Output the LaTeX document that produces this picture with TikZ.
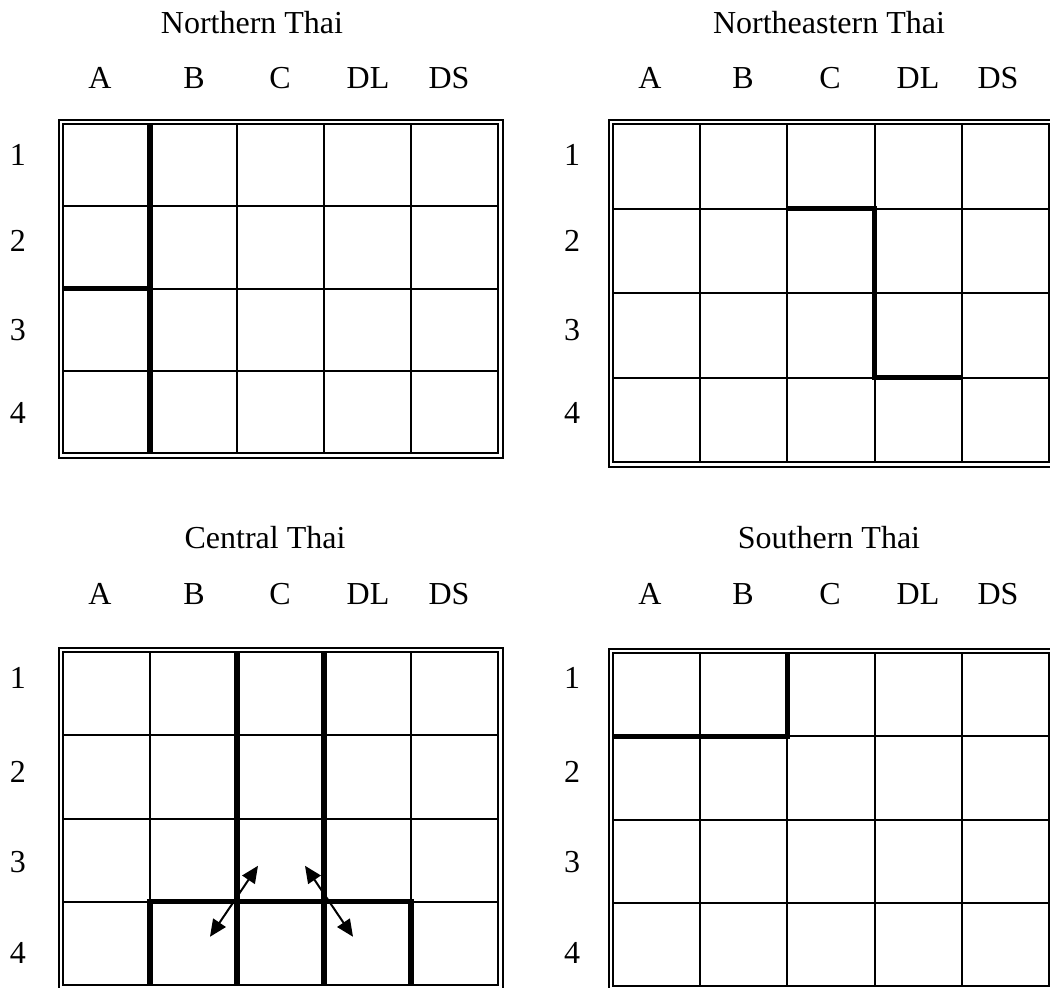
\documentclass[tikz,border=0pt]{standalone}
\usepackage{fontspec}
\setmainfont{Liberation Serif}
\usetikzlibrary{arrows.meta}
\tikzset{
  lbl/.style = {font=\fontsize{16}{19}\selectfont, inner sep=0pt},
  cell/.style = {line width=1pt},
  frame/.style = {line width=1pt},
  heavy/.style = {line width=2.7pt},
  move/.style = {line width=1pt, {Triangle[length=8.5pt,width=7.5pt]}-{Triangle[length=8.5pt,width=7.5pt]}}
}
\begin{document}
\begin{tikzpicture}[x=0.5pt, y=-0.5pt]
\useasboundingbox (0,0) rectangle (1050,987);
\clip (0,0) rectangle (1050,987);
% titles and labels
\node [lbl, anchor=base] (ntitle) at (252,33) {Northern Thai};
\node [lbl, anchor=base] (netitle) at (829,33) {Northeastern Thai};
\node [lbl, anchor=base] (ctitle) at (265,548) {Central Thai};
\node [lbl, anchor=base] (stitle) at (829,548) {Southern Thai};
\foreach \lab/\xx in {A/100,B/194,C/280,DL/368,DS/449} {
  \node [lbl, anchor=base] (ncol\lab) at (\xx,88) {\lab};
  \node [lbl, anchor=base] (ccol\lab) at (\xx,604) {\lab};
}
\foreach \lab/\xx in {A/650,B/743,C/830,DL/918,DS/998} {
  \node [lbl, anchor=base] (necol\lab) at (\xx,88) {\lab};
  \node [lbl, anchor=base] (scol\lab) at (\xx,604) {\lab};
}
\foreach \r/\yy in {1/155,2/241,3/330,4/413} {
  \node [lbl] (nrow\r) at (18,\yy) {\r};
  \node [lbl] (nerow\r) at (572,\yy) {\r};
}
\foreach \r/\yy in {1/678,2/772,3/862,4/953} {
  \node [lbl] (crow\r) at (18,\yy) {\r};
  \node [lbl] (srow\r) at (572,\yy) {\r};
}
% Northern Thai
\begin{scope}[shift={(63,124)}, x=43.5pt, y=-41.125pt]
\foreach \i in {1,...,4} \draw [cell] (\i,0) -- (\i,4);
\foreach \j in {1,2,3} \draw [cell] (0,\j) -- (5,\j);
\draw [frame] (0,0) rectangle (5,4);
\draw [frame] ([xshift=-2.25pt,yshift=2.25pt]0,0) rectangle ([xshift=2.25pt,yshift=-2.25pt]5,4);
\draw [heavy] (1,0) -- (1,4);
\draw [heavy] (0,2) -- (1,2);
\end{scope}
% Northeastern Thai
\begin{scope}[shift={(613,124)}, x=43.6pt, y=-42.25pt]
\foreach \i in {1,...,4} \draw [cell] (\i,0) -- (\i,4);
\foreach \j in {1,2,3} \draw [cell] (0,\j) -- (5,\j);
\draw [frame] (0,0) rectangle (5,4);
\draw [frame] ([xshift=-2.25pt,yshift=2.25pt]0,0) rectangle ([xshift=2.25pt,yshift=-2.25pt]5,4);
\draw [heavy] (2,1) -- (3,1) -- (3,3) -- (4,3);
\end{scope}
% Central Thai
\begin{scope}[shift={(63,652)}, x=43.5pt, y=-41.625pt]
\foreach \i in {1,...,4} \draw [cell] (\i,0) -- (\i,4);
\foreach \j in {1,2,3} \draw [cell] (0,\j) -- (5,\j);
\draw [frame] (0,0) rectangle (5,4);
\draw [frame] ([xshift=-2.25pt,yshift=2.25pt]0,0) rectangle ([xshift=2.25pt,yshift=-2.25pt]5,4);
\draw [heavy] (1,4) -- (1,3) -- (4,3) -- (4,4);
\draw [heavy] (2,0) -- (2,4);
\draw [heavy] (3,0) -- (3,4);
\coordinate (lmid) at (2,3);
\coordinate (rmid) at (3,3);
\end{scope}
\coordinate (la) at ([xshift=-13.5pt,yshift=-17.5pt]lmid);
\coordinate (lb) at ([xshift=10.5pt,yshift=18pt]lmid);
\coordinate (ra) at ([xshift=-9.5pt,yshift=18pt]rmid);
\coordinate (rb) at ([xshift=14.5pt,yshift=-17.5pt]rmid);
\draw [move] (la) -- (lb);
\draw [move] (ra) -- (rb);
% Southern Thai
\begin{scope}[shift={(613,653)}, x=43.6pt, y=-41.625pt]
\foreach \i in {1,...,4} \draw [cell] (\i,0) -- (\i,4);
\foreach \j in {1,2,3} \draw [cell] (0,\j) -- (5,\j);
\draw [frame] (0,0) rectangle (5,4);
\draw [frame] ([xshift=-2.25pt,yshift=2.25pt]0,0) rectangle ([xshift=2.25pt,yshift=-2.25pt]5,4);
\draw [heavy] (2,0) -- (2,1) -- (0,1);
\end{scope}
\end{tikzpicture}
\end{document}
